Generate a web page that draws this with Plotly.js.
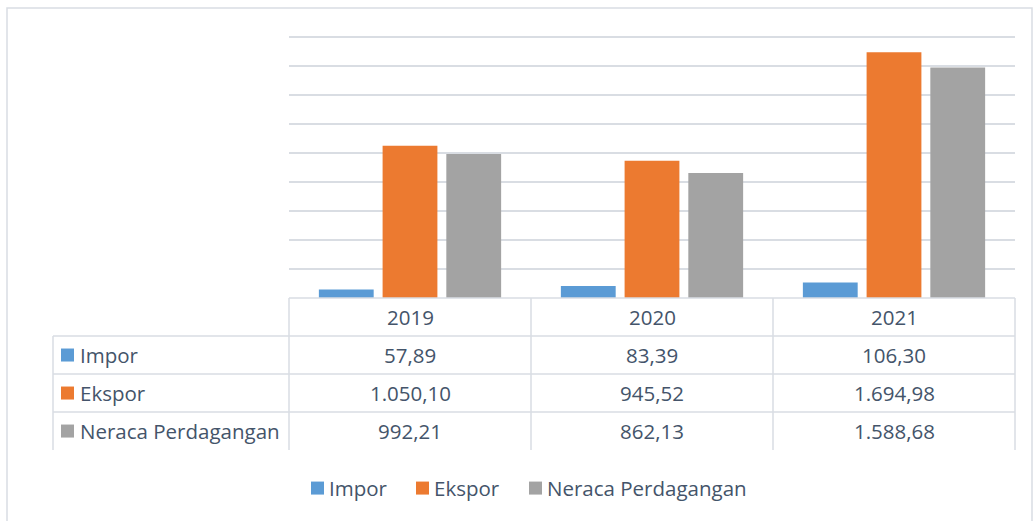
<!DOCTYPE html>
<html>
<head>
<meta charset="utf-8">
<script src="https://cdn.plot.ly/plotly-3.0.1.min.js"></script>
<style>html,body{margin:0;padding:0;background:#fff;}#chart{width:1033px;height:521px;}</style>
</head>
<body>
<div id="chart"></div>
<script>
const years = ['2019', '2020', '2021'];
const seriesNames = ['Impor', 'Ekspor', 'Neraca Perdagangan'];
const impor = [57.89, 83.39, 106.30];
const ekspor = [1050.10, 945.52, 1694.98];
const neraca = [992.21, 862.13, 1588.68];
const seriesValues = [impor, ekspor, neraca];
const seriesColors = ['#5B9BD5', '#EC7A30', '#A3A3A3'];

const W = 1033, H = 521;
const L = 289, R = 1015, B = 298;
const YMAX = 1820;
const T = B - 261 * YMAX / 1800;   // 1800 maps to y = 37
const FONT = '"Open Sans", "Noto Sans", sans-serif';
const TXT = '#44546A';
const LINE = '#D9DDE3';

function fmt(v) {
  const parts = v.toFixed(2).split('.');
  parts[0] = parts[0].replace(/\B(?=(\d{3})+(?!\d))/g, '.');
  return parts[0] + ',' + parts[1];
}
const px = x => (x - L) / (R - L);
const py = y => (B - y) / (B - T);

const traces = seriesNames.map((n, i) => ({
  type: 'bar', name: n, x: years, y: seriesValues[i],
  marker: {color: seriesColors[i]}, showlegend: false, hoverinfo: 'skip'
}));

const shapes = [];
const annotations = [];
function hline(x0, x1, y) { shapes.push({type:'line', xref:'paper', yref:'paper', x0:px(x0), x1:px(x1), y0:py(y), y1:py(y), line:{color:LINE, width:1.5}, layer:'above'}); }
function vline(x, y0, y1) { shapes.push({type:'line', xref:'paper', yref:'paper', x0:px(x), x1:px(x), y0:py(y0), y1:py(y1), line:{color:LINE, width:1.5}, layer:'above'}); }

// outer chart border
shapes.push({type:'rect', xref:'paper', yref:'paper', x0:px(7), x1:px(1032), y0:py(8), y1:py(540), line:{color:'#D9DDE3', width:1.5}, fillcolor:'rgba(0,0,0,0)'});

// table grid
const tblLeft = 53, rowH = 38;
const colEdges = [L, 531, 773, R];
hline(L, R, B);
for (let r = 1; r <= seriesNames.length; r++) hline(tblLeft, R, B + r * rowH);
vline(tblLeft, B + rowH, B + rowH * (seriesNames.length + 1));
colEdges.forEach(x => vline(x, B, B + rowH * (seriesNames.length + 1)));

const tf = {family: FONT, size: 20.5, color: TXT};
years.forEach((yr, c) => {
  const cx = (colEdges[c] + colEdges[c + 1]) / 2;
  annotations.push({xref:'paper', yref:'paper', x:px(cx), y:py(B + rowH/2), text:yr, showarrow:false, font:tf, xanchor:'center', yanchor:'middle'});
  seriesValues.forEach((vals, r) => {
    annotations.push({xref:'paper', yref:'paper', x:px(cx), y:py(B + rowH*(r+1) + rowH/2), text:fmt(vals[c]), showarrow:false, font:tf, xanchor:'center', yanchor:'middle'});
  });
});
seriesNames.forEach((n, r) => {
  const cy = B + rowH*(r+1) + rowH/2;
  shapes.push({type:'rect', xref:'paper', yref:'paper', x0:px(61), x1:px(74), y0:py(cy-6.5), y1:py(cy+6.5), fillcolor:seriesColors[r], line:{width:0}, layer:'above'});
  annotations.push({xref:'paper', yref:'paper', x:px(78), y:py(cy), text:n, showarrow:false, font:tf, xanchor:'left', yanchor:'middle'});
});

// bottom legend
const legX = [311, 416, 529];
const legY = 488;
seriesNames.forEach((n, i) => {
  shapes.push({type:'rect', xref:'paper', yref:'paper', x0:px(legX[i]), x1:px(legX[i]+13), y0:py(legY-6.5), y1:py(legY+6.5), fillcolor:seriesColors[i], line:{width:0}});
  annotations.push({xref:'paper', yref:'paper', x:px(legX[i]+16), y:py(legY), text:n, showarrow:false, font:tf, xanchor:'left', yanchor:'middle'});
});

const layout = {
  width: W, height: H,
  margin: {l: L, r: W - R, t: T, b: H - B, pad: 0},
  paper_bgcolor: '#ffffff', plot_bgcolor: '#ffffff',
  barmode: 'group', bargap: 0.21, bargroupgap: 0.14,
  xaxis: {showticklabels:false, ticks:'', showgrid:false, zeroline:false, showline:false, fixedrange:true},
  yaxis: {range:[0, YMAX], dtick:200, showticklabels:false, ticks:'', showgrid:true, gridcolor:LINE, gridwidth:1.5, zeroline:false, showline:false, fixedrange:true},
  font: {family: FONT, color: TXT},
  shapes: shapes,
  annotations: annotations,
  showlegend: false
};
Plotly.newPlot('chart', traces, layout, {displayModeBar:false, staticPlot:true});
</script>
</body>
</html>
